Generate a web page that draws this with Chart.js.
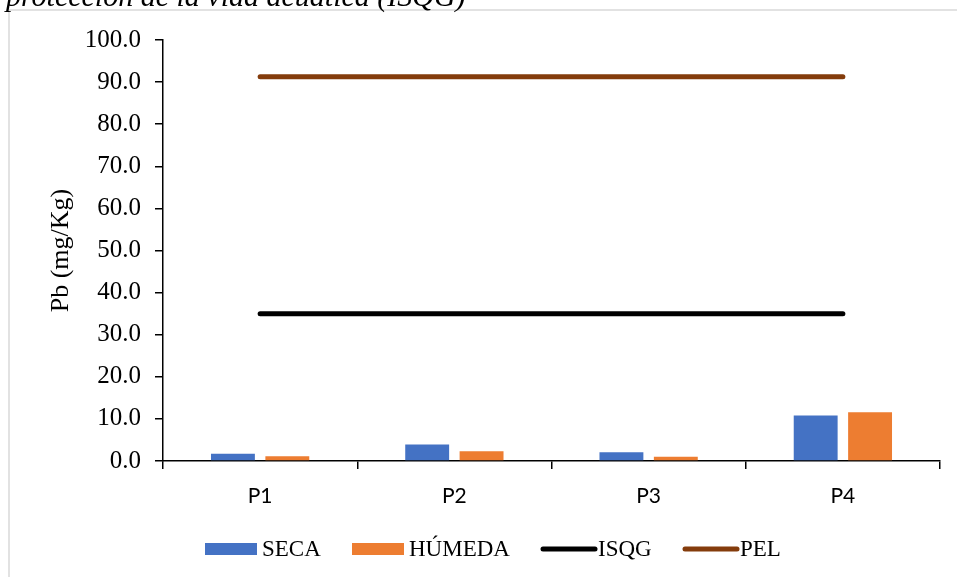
<!DOCTYPE html>
<html>
<head>
<meta charset="utf-8">
<script src="https://cdn.jsdelivr.net/npm/chart.js@4/dist/chart.umd.min.js"></script>
<style>
  html, body { margin: 0; padding: 0; background: #fff; overflow: hidden; }
  #wrap { position: relative; width: 957px; height: 577px; }
  canvas { position: absolute; left: 0; top: 0; }
</style>
</head>
<body>
<div id="wrap">
  <canvas id="c" width="957" height="577"></canvas>
</div>
<script>
// Puntos de muestreo
const categories = ['P1', 'P2', 'P3', 'P4'];
// Plomo en sedimentos por temporada (mg/Kg)
const seca = [1.7, 3.9, 2.1, 10.8];
const humeda = [1.1, 2.3, 1.0, 11.6];
// Valores guía de calidad de sedimentos
const isqg = [35.0, 35.0, 35.0, 35.0];
const pel = [91.3, 91.3, 91.3, 91.3];
// Eje Y
const yTicks = [0, 10, 20, 30, 40, 50, 60, 70, 80, 90, 100];
// Texto del encabezado (cortado por el borde superior)
const caption = 'protección de la vida acuática (ISQG)';

const COLORS = { seca: '#4472C4', humeda: '#ED7D31', isqg: '#000000', pel: '#843C0C' };
const SERIF = '"Liberation Serif", "Times New Roman", serif';

// Marco gris y encabezado en cursiva, detrás del gráfico
const framePlugin = {
  id: 'frame',
  beforeDraw(chart) {
    const ctx = chart.ctx;
    ctx.save();
    ctx.fillStyle = '#fff';
    ctx.fillRect(0, 0, chart.width, chart.height);
    ctx.strokeStyle = '#d9d9d9';
    ctx.lineWidth = 1.5;
    ctx.beginPath();
    ctx.moveTo(9, chart.height + 5);
    ctx.lineTo(9, 10);
    ctx.lineTo(chart.width + 5, 10);
    ctx.stroke();
    ctx.font = 'italic 30px ' + SERIF;
    ctx.fillStyle = '#000';
    ctx.textBaseline = 'alphabetic';
    ctx.fillText(caption, 6, 5.5);
    ctx.restore();
  }
};

// Leyenda inferior dibujada a mano (cajas para barras, trazos para líneas)
const legendPlugin = {
  id: 'bottomLegend',
  afterDraw(chart) {
    const ctx = chart.ctx;
    const items = [
      { label: 'SECA', color: COLORS.seca, kind: 'box', x: 205 },
      { label: 'HÚMEDA', color: COLORS.humeda, kind: 'box', x: 352 },
      { label: 'ISQG', color: COLORS.isqg, kind: 'line', x: 541 },
      { label: 'PEL', color: COLORS.pel, kind: 'line', x: 683 }
    ];
    const cy = 549;
    ctx.save();
    ctx.font = '23px ' + SERIF;
    ctx.textBaseline = 'middle';
    items.forEach(it => {
      if (it.kind === 'box') {
        ctx.fillStyle = it.color;
        ctx.fillRect(it.x, cy - 6, 52, 12);
      } else {
        ctx.strokeStyle = it.color;
        ctx.lineWidth = 5;
        ctx.lineCap = 'round';
        ctx.beginPath();
        ctx.moveTo(it.x + 2, cy);
        ctx.lineTo(it.x + 54, cy);
        ctx.stroke();
      }
      ctx.fillStyle = '#000';
      ctx.fillText(it.label, it.x + 57, cy + 1);
    });
    ctx.restore();
  }
};

new Chart(document.getElementById('c'), {
  data: {
    labels: categories,
    datasets: [
      { type: 'line', label: 'PEL', data: pel, borderColor: COLORS.pel, borderWidth: 5,
        pointRadius: 0, borderCapStyle: 'round', order: 0 },
      { type: 'line', label: 'ISQG', data: isqg, borderColor: COLORS.isqg, borderWidth: 5,
        pointRadius: 0, borderCapStyle: 'round', order: 1 },
      { type: 'bar', label: 'SECA', data: seca, backgroundColor: COLORS.seca,
        categoryPercentage: 0.56, barPercentage: 0.807, order: 2 },
      { type: 'bar', label: 'HÚMEDA', data: humeda, backgroundColor: COLORS.humeda,
        categoryPercentage: 0.56, barPercentage: 0.807, order: 3 }
    ]
  },
  options: {
    responsive: false,
    animation: false,
    layout: { padding: { left: 0, top: 40, right: 17, bottom: 0 } },
    plugins: { legend: { display: false }, tooltip: { enabled: false } },
    scales: {
      x: {
        offset: true,
        grid: { display: true, offset: true, drawOnChartArea: false, drawTicks: true,
                tickLength: 8, color: '#000', lineWidth: 1.5 },
        border: { display: true, color: '#000', width: 1.5 },
        ticks: { color: '#000', padding: 15, font: { family: 'Lato, "Open Sans", sans-serif', size: 21 } },
        afterFit(s) { s.height = 116; }
      },
      y: {
        min: 0, max: 100,
        afterBuildTicks(s) { s.ticks = yTicks.map(v => ({ value: v })); },
        grid: { display: true, drawOnChartArea: false, drawTicks: true, tickLength: 8,
                color: '#000', lineWidth: 1.5 },
        border: { display: true, color: '#000', width: 1.5 },
        ticks: { color: '#000', padding: 14, font: { family: SERIF, size: 25 },
                 callback: v => Number(v).toFixed(1) },
        title: { display: true, text: 'Pb (mg/Kg)', color: '#000',
                 font: { family: SERIF, size: 26 }, padding: { top: 46, bottom: 0 } },
        afterFit(s) { s.width = 163; }
      }
    }
  },
  plugins: [framePlugin, legendPlugin]
});
</script>
</body>
</html>
